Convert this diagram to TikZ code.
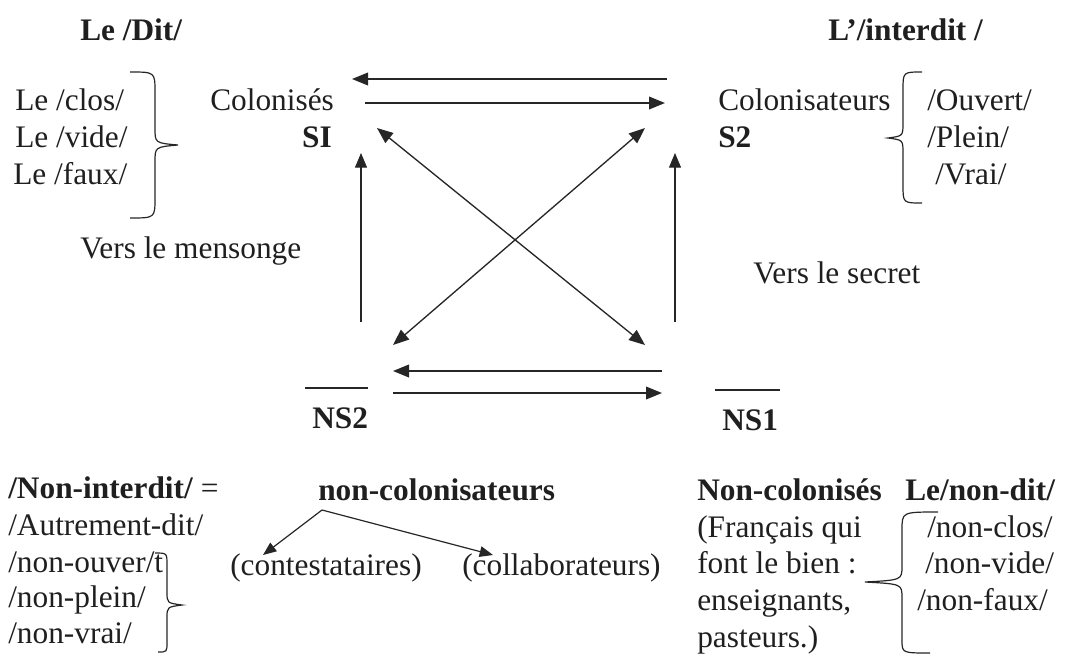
\documentclass[tikz,border=0pt]{standalone}
\usepackage{fontspec}
\setmainfont{Liberation Serif}
\usetikzlibrary{arrows.meta}
\begin{document}
\begin{tikzpicture}[x=0.75pt,y=-0.75pt,
  ink/.style={draw=black!85},
  txt/.style={anchor=base west, inner sep=0pt, text=black!88,
    font=\fontsize{23.5}{28}\selectfont},
  btxt/.style={txt, font=\fontsize{23.5}{28}\selectfont\bfseries},
  bigarrow/.style={ink, line width=1.2pt, -{Triangle[length=12pt,width=9.5pt]}},
  dblarrow/.style={ink, line width=1pt, {Triangle[length=12pt,width=9.5pt]}-{Triangle[length=12pt,width=9.5pt]}},
  uparrow/.style={ink, line width=0.8pt, -{Triangle[length=11pt,width=9pt]}},
  smallarrow/.style={ink, line width=0.9pt, -{Triangle[length=10pt,width=8pt]}},
  bracepath/.style={ink, line width=0.9pt},
  barline/.style={ink, line width=1pt}]
\useasboundingbox (0,0) rectangle (1078,654);

% ---- upper left: le dit
\node[btxt] (dit) at (80,40) {Le /Dit/};
\node[txt] (clos) at (15,110) {Le /clos/};
\node[txt] (vide) at (15,147) {Le /vide/};
\node[txt] (faux) at (13,184) {Le /faux/};
\node[txt] (colonises) at (210,110) {Colonisés};
\node[btxt, anchor=base east] (s1) at (332,147) {SI};
\node[txt] (mensonge) at (80,258) {Vers le mensonge};
\draw[bracepath] (130,72) .. controls (155,72) .. (155,92) -- (155,128)
  .. controls (155,143) .. (178,145) .. controls (155,147) .. (155,162)
  -- (155,198) .. controls (155,218) .. (130,218);

% ---- upper right: l'interdit
\node[btxt] (interdit) at (828,40) {L’/interdit /};
\node[txt] (colonisateurs) at (718,110) {Colonisateurs};
\node[btxt] (s2) at (718,147) {S2};
\node[txt] (ouvert) at (927,110) {/Ouvert/};
\node[txt] (plein) at (927,147) {/Plein/};
\node[txt] (vrai) at (935,184) {/Vrai/};
\node[txt] (secret) at (753,283) {Vers le secret};
\draw[bracepath] (922,72) .. controls (903,72) .. (903,90) -- (903,123)
  .. controls (903,136) .. (888,138) .. controls (903,140) .. (903,153)
  -- (903,185) .. controls (903,203) .. (922,203);

% ---- square of relations
\coordinate (topR) at (667,79);   \coordinate (topL) at (352,79);
\coordinate (midL) at (365,103);  \coordinate (midR) at (665,103);
\coordinate (cTL) at (377,128);   \coordinate (cBR) at (645,345);
\coordinate (cTR) at (645,128);   \coordinate (cBL) at (393,345);
\coordinate (vLb) at (361,322);   \coordinate (vLt) at (361,153);
\coordinate (vRb) at (675,322);   \coordinate (vRt) at (675,153);
\coordinate (botR) at (662,371);  \coordinate (botL) at (393,371);
\coordinate (lowL) at (393,393);  \coordinate (lowR) at (662,393);
\draw[bigarrow] (topR) -- (topL);
\draw[bigarrow] (midL) -- (midR);
\draw[dblarrow] (cTL) -- (cBR);
\draw[dblarrow] (cTR) -- (cBL);
\draw[uparrow] (vLb) -- (vLt);
\draw[uparrow] (vRb) -- (vRt);
\draw[bigarrow] (botR) -- (botL);
\draw[bigarrow] (lowL) -- (lowR);

% ---- negated terms
\node[btxt] (ns2) at (312,428) {NS2};
\node[btxt] (ns1) at (722,430) {NS1};
\draw[barline] (305,388) -- (368,388);
\draw[barline] (715,390) -- (780,390);

% ---- lower left: le non-interdit
\node[txt] (noninterdit) at (8,498) {\textbf{/Non-interdit/} =};
\node[txt] (autrement) at (8,535) {/Autrement-dit/};
\node[txt] (nonouvert) at (8,572) {/non-ouver/t};
\node[txt] (nonplein) at (8,607) {/non-plein/};
\node[txt] (nonvrai) at (8,643) {/non-vrai/};
\draw[bracepath] (155,553) .. controls (167,553) .. (167,565) -- (167,592)
  .. controls (167,603) .. (182,605) .. controls (167,607) .. (167,618)
  -- (167,642) .. controls (167,652) .. (158,652);

% ---- lower centre: non-colonisateurs
\node[btxt] (noncolonisateurs) at (318,500) {non-colonisateurs};
\node[txt] (contest) at (230,575) {(contestataires)};
\node[txt] (collab) at (462,575) {(collaborateurs)};
\coordinate (apex) at (322,510);
\coordinate (tipA) at (263,555);
\coordinate (tipB) at (493,555);
\draw[smallarrow] (apex) -- (tipA);
\draw[smallarrow] (apex) -- (tipB);

% ---- lower right: le non-dit
\node[btxt] (noncolonises) at (697,500) {Non-colonisés};
\node[btxt] (nondit) at (905,500) {Le/non-dit/};
\node[txt] (francais) at (697,537) {(Français qui};
\node[txt] (bien) at (697,573) {font le bien :};
\node[txt] (enseignants) at (697,610) {enseignants,};
\node[txt] (pasteurs) at (697,647) {pasteurs.)};
\node[txt] (nonclos) at (927,537) {/non-clos/};
\node[txt] (nonvide) at (925,573) {/non-vide/};
\node[txt] (nonfaux) at (917,610) {/non-faux/};
\draw[bracepath] (938,512) .. controls (902,512) .. (902,530) -- (902,566)
  .. controls (902,580) .. (865,582) .. controls (902,584) .. (902,598)
  -- (902,640) .. controls (902,653) .. (930,653);
\end{tikzpicture}
\end{document}
